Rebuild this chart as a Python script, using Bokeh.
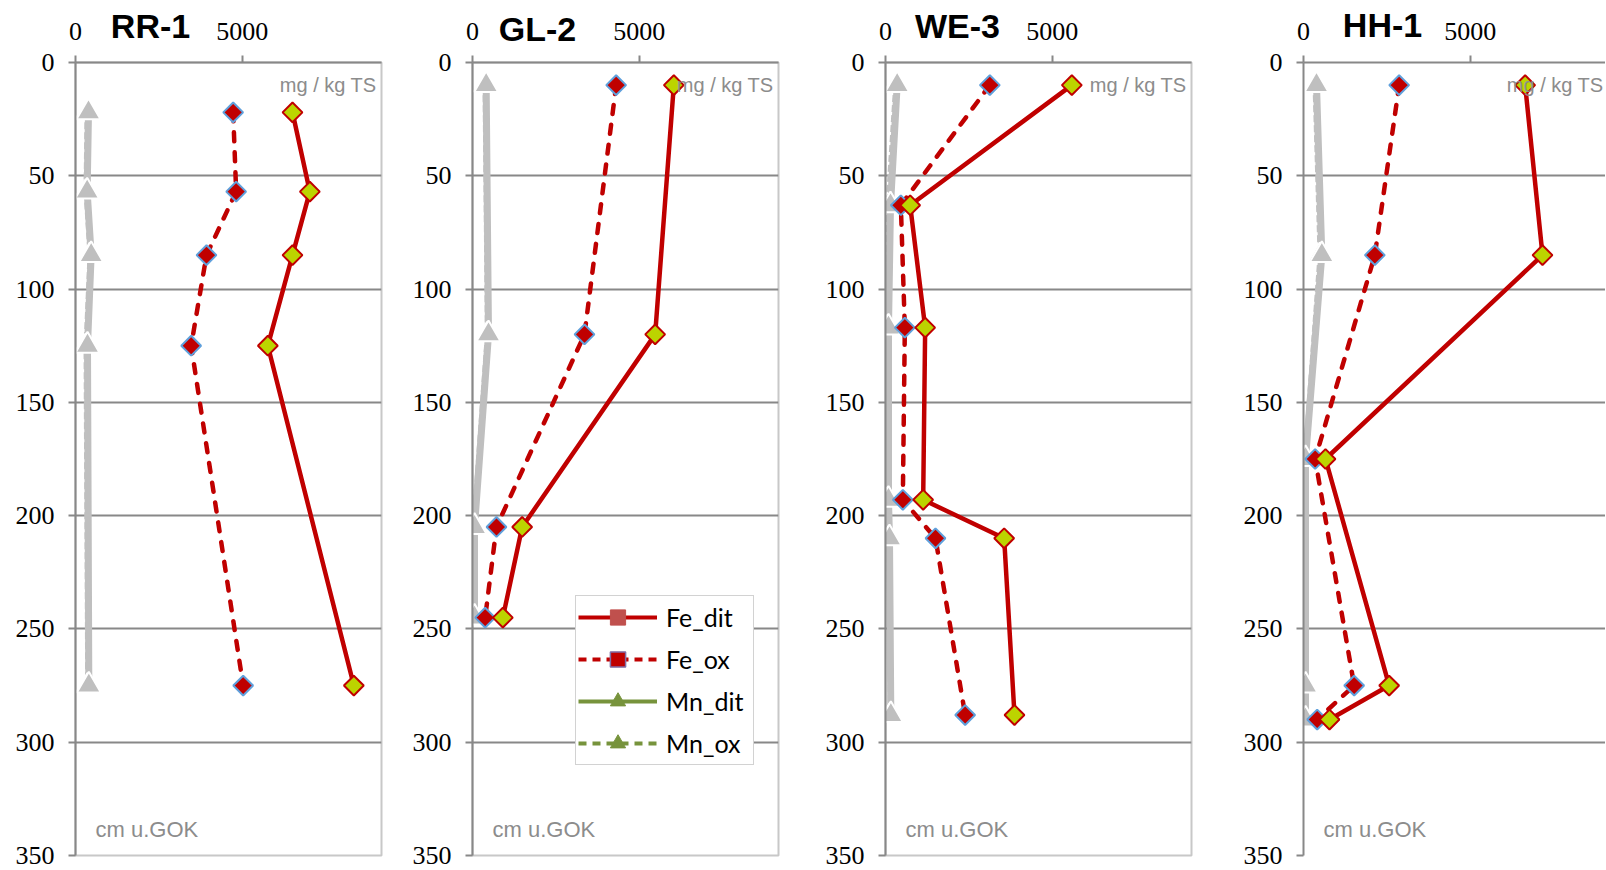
import math
from bokeh.plotting import figure
from bokeh.models import FixedTicker, Label, Legend, LegendItem, Range1d, LinearAxis
from bokeh.layouts import row
from bokeh.embed import file_html
from bokeh.resources import INLINE

# ---------------- data ----------------
titles = ["RR-1", "GL-2", "WE-3", "HH-1"]
x_ticks = [0, 5000]
y_ticks = [0, 50, 100, 150, 200, 250, 300, 350]

depth_rr1 = [22, 57, 85, 125, 275]
fe_dit_rr1 = [6510, 7030, 6510, 5770, 8350]
fe_ox_rr1 = [4730, 4820, 3930, 3470, 5030]
mn_dit_rr1 = [390, 350, 470, 360, 400]
mn_ox_rr1 = [330, 300, 420, 300, 350]

depth_gl2 = [10, 120, 205, 245]
fe_dit_gl2 = [6040, 5480, 1490, 910]
fe_ox_gl2 = [4310, 3360, 720, 380]
mn_dit_gl2 = [410, 480, 60, 60]
mn_ox_gl2 = [360, 430, 20, 20]

depth_we3 = [10, 63, 117, 193, 210, 288]
fe_dit_we3 = [5590, 740, 1190, 1130, 3560, 3870]
fe_ox_we3 = [3130, 460, 580, 520, 1500, 2390]
mn_dit_we3 = [350, 150, 90, 90, 120, 160]
mn_ox_we3 = [290, 60, 40, 40, 90, 130]

depth_hh1 = [10, 85, 175, 275, 290]
fe_dit_hh1 = [6650, 7170, 660, 2570, 780]
fe_ox_hh1 = [2870, 2140, 350, 1520, 410]
mn_dit_hh1 = [390, 550, 60, 60, 60]
mn_ox_hh1 = [330, 480, 30, 30, 30]

series_names = ["Fe_dit", "Fe_ox", "Mn_dit", "Mn_ox"]
unit_label = "mg / kg TS"
depth_label = "cm u.GOK"

panels = [
    (depth_rr1, fe_dit_rr1, fe_ox_rr1, mn_dit_rr1, mn_ox_rr1),
    (depth_gl2, fe_dit_gl2, fe_ox_gl2, mn_dit_gl2, mn_ox_gl2),
    (depth_we3, fe_dit_we3, fe_ox_we3, mn_dit_we3, mn_ox_we3),
    (depth_hh1, fe_dit_hh1, fe_ox_hh1, mn_dit_hh1, mn_ox_hh1),
]

# ---------------- layout (pixels) ----------------
UNITS_PER_PX = 30.0
BT, FH, BB = 62, 793, 15              # shared top border, frame height, bottom border
# (border_left, frame_w, border_right)
geom = [
    (75, 306, 10),
    (81, 306, 10),
    (97, 306, 10),
    (102, 302, 0),
]
title_cx = [75, 65, 72, 79]           # title centre, px right of the y axis
title_standoff = [-25, -28, -25, -24] # pulls the title down to the tick-label row
depth_label_cy = 829                  # centre of "cm u.GOK", px from top

RED = "#C00000"
LIME = "#BCD400"
BLUE = "#5FA0DC"
GRAY = "#BFBFBF"
AX = "#888888"
GREEN = "#77933C"
SERIF = "'Liberation Serif'"
SANS = "'Liberation Sans'"

figs = []
for i, (title, data, g) in enumerate(zip(titles, panels, geom)):
    bl, fw, br = g
    depth, fe_dit, fe_ox, mn_dit, mn_ox = data
    xmax = fw * UNITS_PER_PX
    H = BT + FH + BB
    p = figure(width=bl + fw + br, height=H,
               x_range=Range1d(0, xmax), y_range=Range1d(350, 0),
               x_axis_location="above", output_backend="svg",
               toolbar_location=None, min_border_left=bl, min_border_right=br,
               min_border_top=BT, min_border_bottom=BB)
    p.outline_line_color = None if i == 3 else "#C8C8C8"
    p.outline_line_width = 2
    p.xgrid.visible = False
    p.ygrid.ticker = FixedTicker(ticks=y_ticks[1:])
    p.ygrid.grid_line_color = AX
    p.ygrid.grid_line_width = 2

    for ax in (p.xaxis[0], p.yaxis[0]):
        ax.axis_line_color = AX
        ax.axis_line_width = 2
        ax.major_tick_line_color = AX
        ax.major_tick_line_width = 2
        ax.major_tick_out = 7
        ax.major_tick_in = 0
        ax.minor_tick_line_color = None
        ax.major_label_text_font = SERIF
        ax.major_label_text_font_size = "26px"
        ax.major_label_text_color = "black"
    p.xaxis[0].ticker = FixedTicker(ticks=x_ticks)
    p.yaxis[0].ticker = FixedTicker(ticks=y_ticks)
    p.xaxis[0].major_label_standoff = 16
    p.yaxis[0].major_label_standoff = 14

    # panel name, set on the row of the top tick labels via a second top axis
    tx = int(title_cx[i] * UNITS_PER_PX)
    tax = LinearAxis(ticker=FixedTicker(ticks=[tx]), major_label_overrides={tx: title})
    tax.axis_line_color = None
    tax.major_tick_line_color = None
    tax.minor_tick_line_color = None
    tax.major_tick_out = 0
    tax.major_tick_in = 0
    tax.major_label_standoff = title_standoff[i]
    tax.major_label_text_font = SANS
    tax.major_label_text_font_style = "bold"
    tax.major_label_text_font_size = "34px"
    tax.major_label_text_color = "black"
    p.add_layout(tax, "above")

    # Mn series (drawn grey)
    p.line(mn_ox, depth, line_color=GRAY, line_width=4, line_dash="7 3")
    p.line(mn_dit, depth, line_color=GRAY, line_width=7)
    p.scatter(mn_ox, depth, marker="triangle", size=22, fill_color=GRAY,
              line_color="white", line_width=1.5)
    p.scatter(mn_dit, depth, marker="triangle", size=24, fill_color=GRAY,
              line_color="white", line_width=2)

    # Fe series
    p.line(fe_ox, depth, line_color=RED, line_width=4.5, line_dash="9 11", line_cap="round")
    p.line(fe_dit, depth, line_color=RED, line_width=4.5)
    p.scatter(fe_ox, depth, marker="square", angle=math.pi / 4, size=14,
              fill_color=RED, line_color=BLUE, line_width=2)
    p.scatter(fe_dit, depth, marker="square", angle=math.pi / 4, size=14,
              fill_color=LIME, line_color=RED, line_width=2)

    # unit label
    p.add_layout(Label(x=xmax - (5 if i < 3 else 2) * UNITS_PER_PX, y=10, text=unit_label,
                       text_font=SANS, text_font_size="20px",
                       text_color="#8C8C8C", text_baseline="middle", text_align="right"))
    # depth label
    p.add_layout(Label(x=bl + 20, y=depth_label_cy, x_units="canvas", y_units="canvas",
                       text=depth_label, text_font=SANS, text_font_size="22px",
                       text_color="#8C8C8C", text_baseline="middle", text_align="left"))

    if i == 1:
        # legend with original (green) Mn styling; dummy points lie outside the view
        hx, hy = [-9000], [-900]
        lr1 = p.line(hx, hy, line_color=RED, line_width=4)
        lm1 = p.scatter(hx, hy, marker="square", angle=math.pi / 4,
                        fill_color="#C0504D", line_color="#C0504D")
        lr2 = p.line(hx, hy, line_color=RED, line_width=4, line_dash="8 6")
        lm2 = p.scatter(hx, hy, marker="square", angle=math.pi / 4,
                        fill_color=RED, line_color="#7F6FA8", line_width=1.5)
        lr3 = p.line(hx, hy, line_color=GREEN, line_width=4)
        lm3 = p.scatter(hx, hy, marker="triangle", fill_color=GREEN, line_color=GREEN)
        lr4 = p.line(hx, hy, line_color=GREEN, line_width=4, line_dash="8 6")
        lm4 = p.scatter(hx, hy, marker="triangle", fill_color=GREEN, line_color=GREEN)
        legend = Legend(items=[
            LegendItem(label=series_names[0], renderers=[lr1, lm1]),
            LegendItem(label=series_names[1], renderers=[lr2, lm2]),
            LegendItem(label=series_names[2], renderers=[lr3, lm3]),
            LegendItem(label=series_names[3], renderers=[lr4, lm4]),
        ], location=(103, 90))
        legend.label_text_font = "Lato"
        legend.label_text_font_size = "25px"
        legend.label_text_color = "black"
        legend.glyph_width = 79
        legend.glyph_height = 38
        legend.label_standoff = 9
        legend.label_width = 85
        legend.spacing = 4
        legend.padding = 2
        legend.margin = 0
        legend.border_line_color = "#A6A6A6"
        legend.border_line_width = 1.5
        legend.background_fill_color = "white"
        legend.background_fill_alpha = 1
        p.add_layout(legend)

    figs.append(p)

layout = row(*figs)
open("out.html", "w").write(file_html(layout, INLINE))
